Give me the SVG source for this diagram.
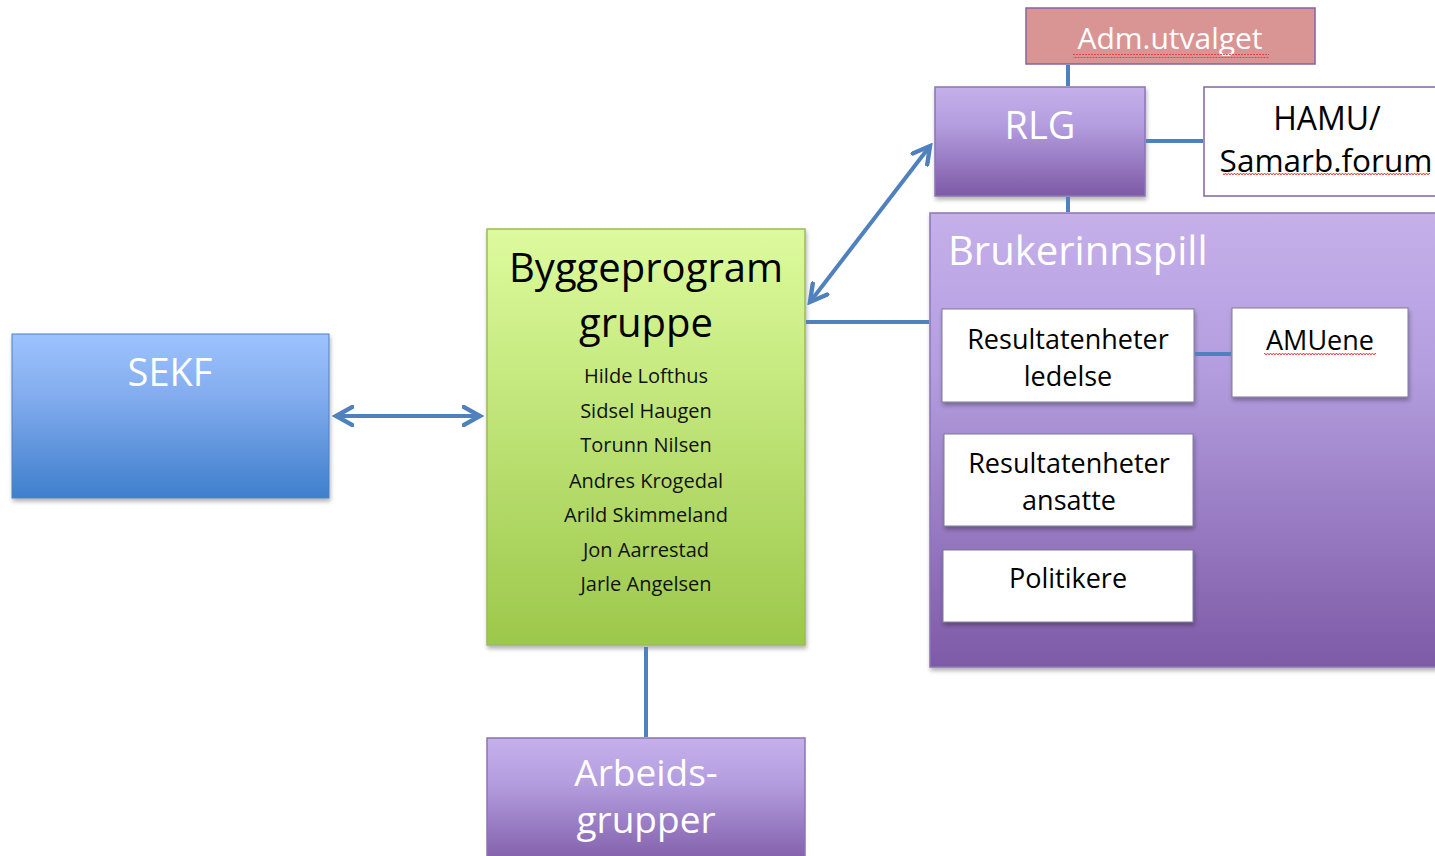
<svg xmlns="http://www.w3.org/2000/svg" width="1435" height="856" viewBox="0 0 1435 856">
<defs>
<linearGradient id="gPurple" x1="0" y1="0" x2="0" y2="1"><stop offset="0" stop-color="#c6b0ea"/><stop offset="0.35" stop-color="#b39ddf"/><stop offset="1" stop-color="#7e5aa6"/></linearGradient>
<linearGradient id="gGreen" x1="0" y1="0" x2="0" y2="1"><stop offset="0" stop-color="#ddfb9d"/><stop offset="1" stop-color="#9cc84b"/></linearGradient>
<linearGradient id="gBlue" x1="0" y1="0" x2="0" y2="1"><stop offset="0" stop-color="#9dc3fd"/><stop offset="0.35" stop-color="#85aef0"/><stop offset="1" stop-color="#3f7fcc"/></linearGradient>
<filter id="sh" x="-5%" y="-5%" width="112%" height="115%"><feDropShadow dx="1" dy="3" stdDeviation="2" flood-color="#000" flood-opacity="0.3"/></filter>
<marker id="ah" viewBox="0 0 12 12" refX="10" refY="6" markerWidth="5.5" markerHeight="5.5" orient="auto-start-reverse" markerUnits="strokeWidth"><path d="M1,1 L10,6 L1,11" fill="none" stroke="#4f81bd" stroke-width="2.4" stroke-linecap="round"/></marker>
<pattern id="wave" width="6" height="4" patternUnits="userSpaceOnUse"><path d="M0,3 L1.5,1 L3,3 L4.5,1 L6,3" fill="none" stroke="#e03030" stroke-width="0.9"/></pattern>
</defs>
<style>
text{font-family:"Open Sans","Noto Sans",sans-serif;text-anchor:middle}
.w{fill:#fff}
.k{fill:#000}
.line{stroke:#4f81bd;stroke-width:4;fill:none}
.pbox{fill:url(#gPurple);stroke:#8c74b4;stroke-width:1.5}
.wbox{fill:#fff;stroke:#8064a2;stroke-width:1.5}
.ibox{fill:#fff;stroke:#7a7a9a;stroke-width:1}
</style>
<rect width="1435" height="856" fill="#fff"/>

<g id="adm">
<rect x="1026" y="8" width="289" height="56" fill="#d99594" stroke="#8064a2" stroke-width="1.5"/>
<text class="w" x="1170" y="49" font-size="30">Adm.utvalget</text>
<rect x="1073" y="54" width="196" height="4" fill="url(#wave)"/>
</g>

<g id="rlg">
<rect class="pbox" x="935" y="87" width="210" height="109" filter="url(#sh)"/>
<text class="w" x="1040" y="139" font-size="38">RLG</text>
</g>

<g id="hamu">
<rect class="wbox" x="1204" y="87" width="240" height="109"/>
<text class="k" x="1327" y="130" font-size="32">HAMU/</text>
<text class="k" x="1326" y="172" font-size="31.5">Samarb.forum</text>
<rect x="1223" y="173" width="207" height="4" fill="url(#wave)"/>
</g>

<g id="brukerinnspill">
<rect class="pbox" x="930" y="213" width="520" height="454" filter="url(#sh)"/>
<text class="w" x="948" y="265" font-size="40" style="text-anchor:start">Brukerinnspill</text>
</g>

<g id="res-ledelse">
<rect class="ibox" x="942" y="309" width="252" height="93" filter="url(#sh)"/>
<text class="k" x="1068" y="349" font-size="27">Resultatenheter</text>
<text class="k" x="1068" y="386" font-size="27">ledelse</text>
</g>

<g id="amuene">
<rect class="ibox" x="1232" y="308" width="176" height="89" filter="url(#sh)"/>
<text class="k" x="1320" y="350" font-size="27">AMUene</text>
<rect x="1264" y="351" width="112" height="4" fill="url(#wave)"/>
</g>

<g id="res-ansatte">
<rect class="ibox" x="944" y="434" width="249" height="92" filter="url(#sh)"/>
<text class="k" x="1069" y="473" font-size="27">Resultatenheter</text>
<text class="k" x="1069" y="510" font-size="27">ansatte</text>
</g>

<g id="politikere">
<rect class="ibox" x="943" y="550" width="250" height="72" filter="url(#sh)"/>
<text class="k" x="1068" y="588" font-size="27">Politikere</text>
</g>

<g id="byggeprogram">
<rect x="487" y="229" width="318" height="416" fill="url(#gGreen)" stroke="#9bbb59" stroke-width="1.5" filter="url(#sh)"/>
<text class="k" x="646" y="282" font-size="40">Byggeprogram</text>
<text class="k" x="646" y="337" font-size="40">gruppe</text>
<g font-size="20" fill="#111">
<text x="646" y="383">Hilde Lofthus</text>
<text x="646" y="418">Sidsel Haugen</text>
<text x="646" y="452">Torunn Nilsen</text>
<text x="646" y="488">Andres Krogedal</text>
<text x="646" y="522">Arild Skimmeland</text>
<text x="646" y="557">Jon Aarrestad</text>
<text x="646" y="591">Jarle Angelsen</text>
</g>
</g>

<g id="sekf">
<rect x="12" y="334" width="317" height="164" fill="url(#gBlue)" stroke="#4f81bd" stroke-width="1" filter="url(#sh)"/>
<text class="w" x="170" y="386" font-size="38">SEKF</text>
</g>

<g id="arbeidsgrupper">
<rect class="pbox" x="487" y="738" width="318" height="130"/>
<text class="w" x="646" y="786" font-size="37">Arbeids-</text>
<text class="w" x="646" y="833" font-size="37">grupper</text>
</g>

<g id="connectors">
<line class="line" x1="1068" y1="65" x2="1068" y2="86"/>
<line class="line" x1="1068" y1="197" x2="1068" y2="212"/>
<line class="line" x1="1146" y1="141" x2="1203" y2="141"/>
<line class="line" x1="806" y1="322" x2="929" y2="322"/>
<line class="line" x1="646" y1="647" x2="646" y2="737"/>
<line class="line" x1="1195" y1="354" x2="1231" y2="354"/>
<line class="line" x1="336" y1="416" x2="480" y2="416" marker-start="url(#ah)" marker-end="url(#ah)"/>
<line class="line" stroke-width="3.5" x1="810" y1="302" x2="930" y2="146" marker-start="url(#ah)" marker-end="url(#ah)"/>
</g>
</svg>
